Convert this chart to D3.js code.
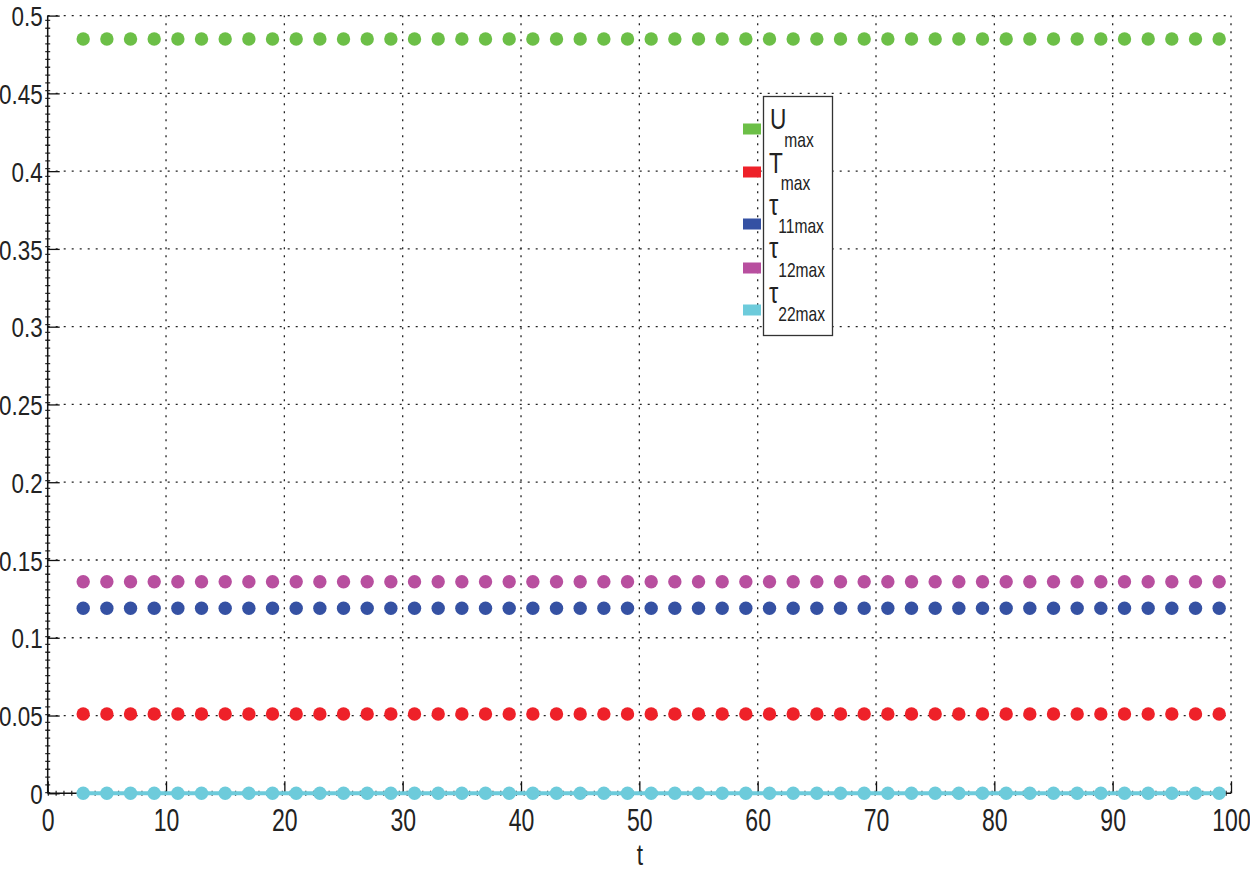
<!DOCTYPE html>
<html>
<head>
<meta charset="utf-8">
<script src="https://cdn.jsdelivr.net/npm/d3@7"></script>
<style>
  html, body { margin: 0; padding: 0; background: #fff; }
  svg { display: block; }
  text { font-family: "Liberation Sans", Arial, Helvetica, sans-serif; fill: #222; }
</style>
</head>
<body>
<svg id="chart" width="1250" height="873"></svg>
<script>
// ---------------- data ----------------
const tValues = [3,5,7,9,11,13,15,17,19,21,23,25,27,29,31,33,35,37,39,41,43,45,47,49,51,53,55,57,59,61,63,65,67,69,71,73,75,77,79,81,83,85,87,89,91,93,95,97,99];
const uMax = [0.485,0.485,0.485,0.485,0.485,0.485,0.485,0.485,0.485,0.485,0.485,0.485,0.485,0.485,0.485,0.485,0.485,0.485,0.485,0.485,0.485,0.485,0.485,0.485,0.485,0.485,0.485,0.485,0.485,0.485,0.485,0.485,0.485,0.485,0.485,0.485,0.485,0.485,0.485,0.485,0.485,0.485,0.485,0.485,0.485,0.485,0.485,0.485,0.485];
const tMax = [0.051,0.051,0.051,0.051,0.051,0.051,0.051,0.051,0.051,0.051,0.051,0.051,0.051,0.051,0.051,0.051,0.051,0.051,0.051,0.051,0.051,0.051,0.051,0.051,0.051,0.051,0.051,0.051,0.051,0.051,0.051,0.051,0.051,0.051,0.051,0.051,0.051,0.051,0.051,0.051,0.051,0.051,0.051,0.051,0.051,0.051,0.051,0.051,0.051];
const tau11Max = [0.119,0.119,0.119,0.119,0.119,0.119,0.119,0.119,0.119,0.119,0.119,0.119,0.119,0.119,0.119,0.119,0.119,0.119,0.119,0.119,0.119,0.119,0.119,0.119,0.119,0.119,0.119,0.119,0.119,0.119,0.119,0.119,0.119,0.119,0.119,0.119,0.119,0.119,0.119,0.119,0.119,0.119,0.119,0.119,0.119,0.119,0.119,0.119,0.119];
const tau12Max = [0.136,0.136,0.136,0.136,0.136,0.136,0.136,0.136,0.136,0.136,0.136,0.136,0.136,0.136,0.136,0.136,0.136,0.136,0.136,0.136,0.136,0.136,0.136,0.136,0.136,0.136,0.136,0.136,0.136,0.136,0.136,0.136,0.136,0.136,0.136,0.136,0.136,0.136,0.136,0.136,0.136,0.136,0.136,0.136,0.136,0.136,0.136,0.136,0.136];
const tau22Max = [0,0,0,0,0,0,0,0,0,0,0,0,0,0,0,0,0,0,0,0,0,0,0,0,0,0,0,0,0,0,0,0,0,0,0,0,0,0,0,0,0,0,0,0,0,0,0,0,0];

const seriesNames = ["U", "T", "τ", "τ", "τ"];
const seriesSubs = ["max", "max", "11max", "12max", "22max"];
const seriesColors = ["#6cbf47", "#ee2129", "#3551a3", "#b84f9f", "#6dcbdb"];
const seriesData = [uMax, tMax, tau11Max, tau12Max, tau22Max];

const xTicks = [0,10,20,30,40,50,60,70,80,90,100];
const yTicks = [0,0.05,0.1,0.15,0.2,0.25,0.3,0.35,0.4,0.45,0.5];
const yTickLabels = ["0","0.05","0.1","0.15","0.2","0.25","0.3","0.35","0.4","0.45","0.5"];
const xLabel = "t";

// ---------------- layout ----------------
const svg = d3.select("#chart");
const L = 47.7, R = 1231, T = 15.6, B = 793.3;
const x = d3.scaleLinear().domain([0, 100]).range([L, R]);
const y = d3.scaleLinear().domain([0, 0.5]).range([B, T]);
const SX = 0.78; // horizontal condensing of the narrow Helvetica look

svg.append("rect").attr("width", 1250).attr("height", 873).attr("fill", "#fff");

function narrowText(g, px, py, str, size, anchor) {
  return g.append("text")
    .attr("transform", `translate(${px},${py}) scale(${SX},1)`)
    .attr("font-size", size)
    .attr("text-anchor", anchor || "start")
    .text(str);
}

// grid (dotted)
const grid = svg.append("g");
grid.selectAll("line.gx").data(xTicks.filter(d => d > 0)).join("line")
  .attr("x1", d => x(d)).attr("x2", d => x(d)).attr("y1", B).attr("y2", T)
  .attr("stroke", "#222").attr("stroke-width", 1.3).attr("stroke-dasharray", "2,6");
grid.selectAll("line.gy").data(yTicks.filter(d => d > 0)).join("line")
  .attr("x1", L).attr("x2", R).attr("y1", d => y(d)).attr("y2", d => y(d))
  .attr("stroke", "#222").attr("stroke-width", 1.3).attr("stroke-dasharray", "2,6");

// small dash marks along the axes (dotted grid at the axes)
svg.append("line").attr("x1", L).attr("x2", L).attr("y1", B).attr("y2", T)
  .attr("stroke", "#333").attr("stroke-width", 5).attr("stroke-dasharray", "1.3,6.5");
svg.append("line").attr("x1", L).attr("x2", R).attr("y1", B).attr("y2", B)
  .attr("stroke", "#333").attr("stroke-width", 5).attr("stroke-dasharray", "1.3,6.5");

// axes
const xAxis = d3.axisBottom(x).tickValues(xTicks).tickSize(-12).tickPadding(15).tickFormat(d3.format("d"));
const gx = svg.append("g").attr("transform", `translate(0,${B})`).call(xAxis);
gx.select(".domain").attr("stroke", "#111").attr("stroke-width", 1.5).attr("d", `M${L},0H${R}`);
gx.selectAll(".tick line").attr("stroke", "#111").attr("stroke-width", 1.3);
gx.selectAll(".tick text").attr("font-size", 32).attr("fill", "#222")
  .attr("font-family", '"Liberation Sans", Arial, sans-serif')
  .attr("transform", `scale(0.72,1)`);

const yAxis = d3.axisLeft(y).tickValues(yTicks).tickSize(-12).tickPadding(5)
  .tickFormat((d, i) => yTickLabels[i]);
const gy = svg.append("g").attr("transform", `translate(${L},0)`).call(yAxis);
gy.select(".domain").attr("stroke", "#111").attr("stroke-width", 1.5).attr("d", `M0,${B}V${T}`);
gy.selectAll(".tick line").attr("stroke", "#111").attr("stroke-width", 1.3);
gy.selectAll(".tick text").attr("font-size", 28).attr("fill", "#222")
  .attr("font-family", '"Liberation Sans", Arial, sans-serif')
  .attr("dy", "0.36em")
  .attr("x", -5 / 0.8)
  .attr("transform", `scale(0.8,1)`);

// cyan solid line (tau22)
const line = d3.line().x((d, i) => x(tValues[i])).y(d => y(d));
svg.append("path").datum(tau22Max).attr("d", line)
  .attr("fill", "none").attr("stroke", seriesColors[4]).attr("stroke-width", 4);

// markers
seriesData.forEach((vals, s) => {
  svg.append("g").selectAll("circle").data(vals).join("circle")
    .attr("cx", (d, i) => x(tValues[i]))
    .attr("cy", d => y(d))
    .attr("r", 6.7)
    .attr("fill", seriesColors[s]);
});

// x label
narrowText(svg, 640, 865, xLabel, 29, "middle");

// legend
const lg = svg.append("g");
lg.append("rect").attr("x", 763.5).attr("y", 96.5).attr("width", 69).attr("height", 239)
  .attr("fill", "#fff").attr("stroke", "#333").attr("stroke-width", 1.3);
const swatchY = [129, 172, 224, 268, 310];
const mainBase = [129, 173, 215, 258, 303];
const subBase = [147, 190, 233, 277, 321];
const mainX = [770, 769, 769, 769, 769];
seriesNames.forEach((n, i) => {
  lg.append("rect").attr("x", 743).attr("y", swatchY[i] - 5.5).attr("width", 18).attr("height", 11)
    .attr("fill", seriesColors[i]);
  const isTau = n === "τ";
  const t = narrowText(lg, mainX[i], mainBase[i], n, isTau ? 30 : 29);
  const w = t.node().getComputedTextLength() * SX;
  narrowText(lg, mainX[i] + w + (isTau ? 0 : -2), subBase[i], seriesSubs[i], 20);
});
</script>
</body>
</html>
